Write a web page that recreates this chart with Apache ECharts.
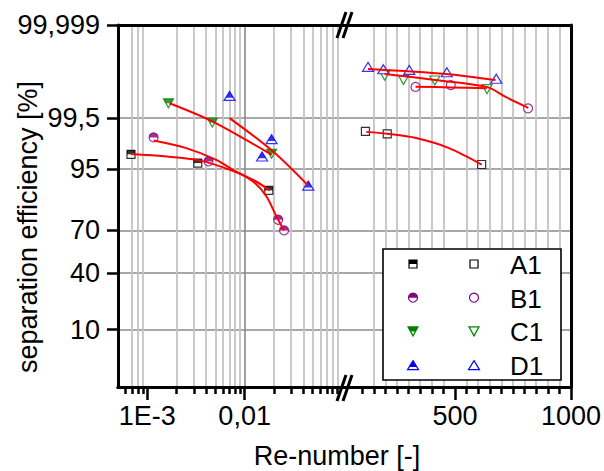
<!DOCTYPE html>
<html><head><meta charset="utf-8">
<script src="https://cdn.jsdelivr.net/npm/echarts@6/dist/echarts.min.js"></script>
<style>html,body{margin:0;padding:0;background:#fff}#c{width:604px;height:471px}</style>
</head><body><div id="c"></div>
<script>
// ---------------- data ----------------
const yTickValues = [10, 40, 70, 95, 99.5, 99.999];
const yTickLabels = ['10', '40', '70', '95', '99,5', '99,999'];
const yMinPct = 1, yMaxPct = 99.999;

const xLeftMin = 5e-4, xLeftMax = 0.1;
const xLeftMajor = [1e-3, 1e-2];
const xLeftMajorLabels = ['1E-3', '0,01'];
const xLeftMinor = [6e-4, 7e-4, 8e-4, 9e-4, 2e-3, 3e-3, 4e-3, 5e-3, 6e-3, 7e-3, 8e-3, 9e-3,
                    2e-2, 3e-2, 4e-2, 5e-2, 6e-2, 7e-2, 8e-2, 9e-2];
const xRightMin = 13, xRightMax = 1000;
const xRightMajor = [500, 1000];
const xRightMajorLabels = ['500', '1000'];
const xRightMinor = [100, 150, 200, 250, 300, 350, 400, 450, 550, 600, 650, 700, 750, 800, 850, 900, 950];

// filled markers (low Re)
const reA1L = [6.8e-4, 3.3e-3, 0.0177];
const effA1L = [97.2, 96.0, 89.5];
const reB1L = [1.16e-3, 4.25e-3, 0.0221, 0.0254];
const effB1L = [98.67, 96.25, 76.4, 70.0];
const reC1L = [1.65e-3, 4.65e-3, 0.0189];
const effC1L = [99.775, 99.36, 97.26];
const reD1L = [7.0e-3, 0.0151, 0.0189, 0.045];
const effD1L = [99.853, 96.93, 98.56, 91.0];
// open markers (high Re)
const reA1R = [114, 208, 615];
const effA1R = [99.0, 98.88, 95.77];
const reB1R = [330, 482, 815];
const effB1R = [99.915, 99.924, 99.70];
const reC1R = [197, 278, 413, 638];
const effC1R = [99.958, 99.945, 99.943, 99.902];
const reD1R = [125, 191, 303, 465, 678];
const effD1R = [99.977, 99.973, 99.9717, 99.967, 99.949];

// red fit curves
const fitA1L_re = [6.8e-4, 1.5e-3, 3.44e-3, 7.52e-3, 0.01268, 0.0181];
const fitA1L_eff = [97.22, 96.95, 96.41, 94.63, 92.35, 89.5];
const fitB1L_re = [1.16e-3, 2.51e-3, 5.11e-3, 7.57e-3, 0.01218, 0.01674, 0.02122, 0.0254];
const fitB1L_eff = [98.47, 97.85, 96.49, 94.84, 92.16, 87.35, 78.2, 70.0];
const fitC1L_re = [1.69e-3, 4.71e-3, 0.019];
const fitC1L_eff = [99.775, 99.39, 97.13];
const fitD1L_re = [7.0e-3, 0.0196, 0.045];
const fitD1L_eff = [99.49, 97.51, 91.0];
const fitA1R_re = [118, 208, 332, 474, 615];
const fitA1R_eff = [98.98, 98.88, 98.63, 97.85, 95.77];
const fitC1R_re = [197, 415, 637, 718, 816];
const fitC1R_eff = [99.963, 99.945, 99.915, 99.844, 99.707];
const fitB1R_re = [330, 482, 637];
const fitB1R_eff = [99.916, 99.912, 99.908];
const fitD1R_re = [125, 462, 675];
const fitD1R_eff = [99.9735, 99.963, 99.945];

const legendNames = ['A1', 'B1', 'C1', 'D1'];

// ---------------- helpers ----------------
function probit(p) {
  const a=[-3.969683028665376e+01,2.209460984245205e+02,-2.759285104469687e+02,1.383577518672690e+02,-3.066479806614716e+01,2.506628277459239e+00];
  const b=[-5.447609879822406e+01,1.615858368580409e+02,-1.556989798598866e+02,6.680131188771972e+01,-1.328068155288572e+01];
  const c=[-7.784894002430293e-03,-3.223964580411365e-01,-2.400758277161838e+00,-2.549732539343734e+00,4.374664141464968e+00,2.938163982698783e+00];
  const d=[7.784695709041462e-03,3.224671290700398e-01,2.445134137142996e+00,3.754408661907416e+00];
  const plow=0.02425, phigh=1-plow; let q,r;
  if(p<plow){q=Math.sqrt(-2*Math.log(p));return (((((c[0]*q+c[1])*q+c[2])*q+c[3])*q+c[4])*q+c[5])/((((d[0]*q+d[1])*q+d[2])*q+d[3])*q+1);}
  if(p<=phigh){q=p-0.5;r=q*q;return (((((a[0]*r+a[1])*r+a[2])*r+a[3])*r+a[4])*r+a[5])*q/(((((b[0]*r+b[1])*r+b[2])*r+b[3])*r+b[4])*r+1);}
  q=Math.sqrt(-2*Math.log(1-p));return -(((((c[0]*q+c[1])*q+c[2])*q+c[3])*q+c[4])*q+c[5])/((((d[0]*q+d[1])*q+d[2])*q+d[3])*q+1);
}
const zOf = pct => probit(pct / 100);
const yTickZ = yTickValues.map(zOf);
const yMin = zOf(yMinPct), yMax = zOf(yMaxPct);
function nearestLabel(v, vals, labels) {
  let bi = 0, bd = Infinity;
  vals.forEach((t, i) => { const dd = Math.abs(t - v); if (dd < bd) { bd = dd; bi = i; } });
  return bd < 1e-6 * Math.max(1, Math.abs(v)) + 1e-9 ? labels[bi] : '';
}
const ptsL = (re, eff) => re.map((r, i) => [Math.log10(r), zOf(eff[i])]);
const ptsR = (re, eff) => re.map((r, i) => [r, zOf(eff[i])]);

const FONT = "'Liberation Sans', Arial, sans-serif";
const COL = { A: '#000000', B: '#800080', C: '#008000', D: '#0000ff' };
const GRID_MAJOR = '#8a8a8a', GRID_MINOR = '#c4c4c4';

const xLeftMajorLog = xLeftMajor.map(Math.log10);
const xLeftMinorLog = xLeftMinor.map(Math.log10);

function bottomAxis(grid, min, max, vals, major, labelVals, labels) {
  return {
    gridIndex: grid, type: 'value', position: 'bottom', min, max,
    axisLine: { show: true, onZero: false, lineStyle: { color: '#000', width: 3 } },
    axisTick: { show: true, length: major ? 13 : 7, customValues: vals, lineStyle: { color: '#000', width: 2.5 } },
    axisLabel: major ? { show: true, customValues: vals, margin: 15, fontSize: 27, fontFamily: FONT, color: '#000',
      formatter: v => nearestLabel(v, labelVals, labels) } : { show: false },
    splitLine: { show: true, showMinLine: false, lineStyle: { color: major ? GRID_MAJOR : GRID_MINOR, width: major ? 1.6 : 1.8 } }
  };
}
function topAxis(grid, min, max) {
  return { gridIndex: grid, type: 'value', position: 'top', min, max,
    axisLine: { show: true, onZero: false, lineStyle: { color: '#000', width: 3 } },
    axisTick: { show: false }, axisLabel: { show: false }, splitLine: { show: false } };
}

const xAxis = [
  bottomAxis(0, Math.log10(xLeftMin), Math.log10(xLeftMax), xLeftMinorLog, false),
  bottomAxis(0, Math.log10(xLeftMin), Math.log10(xLeftMax), xLeftMajorLog, true, xLeftMajorLog, xLeftMajorLabels),
  topAxis(0, Math.log10(xLeftMin), Math.log10(xLeftMax)),
  bottomAxis(1, xRightMin, xRightMax, xRightMinor, false),
  bottomAxis(1, xRightMin, xRightMax, xRightMajor, true, xRightMajor, xRightMajorLabels),
  topAxis(1, xRightMin, xRightMax)
];
const yAxis = [
  { gridIndex: 0, type: 'value', position: 'left', min: yMin, max: yMax,
    axisLine: { show: true, onZero: false, lineStyle: { color: '#000', width: 3 } },
    axisTick: { show: true, length: 11, customValues: yTickZ, lineStyle: { color: '#000', width: 2.5 } },
    axisLabel: { show: true, customValues: yTickZ, margin: 18, fontSize: 27, fontFamily: FONT, color: '#000',
      formatter: v => nearestLabel(v, yTickZ, yTickLabels) },
    splitLine: { show: true, lineStyle: { color: GRID_MAJOR, width: 1.6 } } },
  { gridIndex: 1, type: 'value', position: 'right', min: yMin, max: yMax,
    axisLine: { show: true, onZero: false, lineStyle: { color: '#000', width: 3 } },
    axisTick: { show: false, customValues: yTickZ }, axisLabel: { show: false, customValues: yTickZ },
    splitLine: { show: true, lineStyle: { color: GRID_MAJOR, width: 1.6 } } }
];

const SHAPES = {
  square: { base: { symbol: 'rect', symbolSize: 8 },
            half: { symbol: 'rect', symbolSize: [8, 4], symbolOffset: [0, -2] } },
  circle: { base: { symbol: 'circle', symbolSize: 9 },
            half: { symbol: 'path://M0,10A10,10,0,0,1,20,10Z', symbolSize: [9, 4.5], symbolOffset: [0, -2.25] } },
  down:   { base: { symbol: 'triangle', symbolSize: [10, 9], symbolRotate: 180 },
            half: { symbol: 'path://M0,0L20,0L15,10L5,10Z', symbolSize: [10, 4.5], symbolOffset: [0, -2.25] } },
  up:     { base: { symbol: 'triangle', symbolSize: [11, 9] },
            half: { symbol: 'path://M10,0L20,20L0,20Z', symbolSize: [7.7, 6.3], symbolOffset: [0, -1.35] } }
};
function scatter(name, data, xi, yi, shape, color, filled) {
  const out = [Object.assign({ type: 'scatter', name, data, xAxisIndex: xi, yAxisIndex: yi, z: 3,
    itemStyle: { color: '#fff', borderColor: color, borderWidth: 1.2 }, emphasis: { disabled: true } }, SHAPES[shape].base)];
  if (filled) out.push(Object.assign({ type: 'scatter', name: name + ' fill', data, xAxisIndex: xi, yAxisIndex: yi, z: 3,
    itemStyle: { color: color, borderWidth: 0 }, emphasis: { disabled: true } }, SHAPES[shape].half));
  return out;
}
function fit(name, data, xi, yi) {
  return { type: 'line', name, data, xAxisIndex: xi, yAxisIndex: yi, smooth: 0.3, showSymbol: false, z: 5,
    lineStyle: { color: '#ff0000', width: 2 }, emphasis: { disabled: true } };
}

const series = [].concat(
  scatter('A1 filled', ptsL(reA1L, effA1L), 1, 0, 'square', COL.A, true),
  scatter('B1 filled', ptsL(reB1L, effB1L), 1, 0, 'circle', COL.B, true),
  scatter('C1 filled', ptsL(reC1L, effC1L), 1, 0, 'down', COL.C, true),
  scatter('D1 filled', ptsL(reD1L, effD1L), 1, 0, 'up', COL.D, true),
  scatter('A1', ptsR(reA1R, effA1R), 4, 1, 'square', COL.A, false),
  scatter('B1', ptsR(reB1R, effB1R), 4, 1, 'circle', COL.B, false),
  scatter('C1', ptsR(reC1R, effC1R), 4, 1, 'down', COL.C, false),
  scatter('D1', ptsR(reD1R, effD1R), 4, 1, 'up', COL.D, false),
  [fit('fit A1 L', ptsL(fitA1L_re, fitA1L_eff), 1, 0),
   fit('fit B1 L', ptsL(fitB1L_re, fitB1L_eff), 1, 0),
   fit('fit C1 L', ptsL(fitC1L_re, fitC1L_eff), 1, 0),
   fit('fit D1 L', ptsL(fitD1L_re, fitD1L_eff), 1, 0),
   fit('fit A1 R', ptsR(fitA1R_re, fitA1R_eff), 4, 1),
   fit('fit C1 R', ptsR(fitC1R_re, fitC1R_eff), 4, 1),
   fit('fit B1 R', ptsR(fitB1R_re, fitB1R_eff), 4, 1),
   fit('fit D1 R', ptsR(fitD1R_re, fitD1R_eff), 4, 1)]
);

function legendMarker(kind, cx, cy, filled, color) {
  const els = []; const st = { fill: '#fff', stroke: color, lineWidth: 1.2 };
  if (kind === 'square') {
    els.push({ type: 'rect', shape: { x: cx - 4, y: cy - 4, width: 8, height: 8 }, style: st });
    if (filled) els.push({ type: 'rect', shape: { x: cx - 4, y: cy - 4, width: 8, height: 4 }, style: { fill: color } });
  } else if (kind === 'circle') {
    els.push({ type: 'circle', shape: { cx, cy, r: 4.5 }, style: st });
    if (filled) els.push({ type: 'sector', shape: { cx, cy, r0: 0, r: 4.5, startAngle: Math.PI, endAngle: Math.PI * 2 }, style: { fill: color } });
  } else if (kind === 'down') {
    els.push({ type: 'polygon', shape: { points: [[cx - 5, cy - 4.5], [cx + 5, cy - 4.5], [cx, cy + 4.5]] }, style: st });
    if (filled) els.push({ type: 'polygon', shape: { points: [[cx - 5, cy - 4.5], [cx + 5, cy - 4.5], [cx + 2.5, cy], [cx - 2.5, cy]] }, style: { fill: color } });
  } else {
    els.push({ type: 'polygon', shape: { points: [[cx, cy - 4.5], [cx + 5.5, cy + 4.5], [cx - 5.5, cy + 4.5]] }, style: st });
    if (filled) els.push({ type: 'polygon', shape: { points: [[cx, cy - 4.5], [cx + 3.85, cy + 1.8], [cx - 3.85, cy + 1.8]] }, style: { fill: color } });
  }
  return els;
}
const kinds = ['square', 'circle', 'down', 'up'];
const cols = [COL.A, COL.B, COL.C, COL.D];
const graphic = [
  { type: 'rect', z: 100, shape: { x: 383, y: 249, width: 178, height: 131 }, style: { fill: '#fff', stroke: '#000', lineWidth: 1.6 } }
];
legendNames.forEach((n, i) => {
  const cy = 264 + i * 33.7;
  legendMarker(kinds[i], 413, cy, true, cols[i]).concat(legendMarker(kinds[i], 474, cy, false, cols[i]))
    .forEach(e => { e.z = 101; graphic.push(e); });
  graphic.push({ type: 'text', z: 101, x: 510, y: cy + 1, style: { text: n, fontSize: 26, fontFamily: FONT, fill: '#000',
    textAlign: 'left', textVerticalAlign: 'middle', align: 'left', verticalAlign: 'middle' } });
});
[[345, 25], [345, 388]].forEach(([bx, by]) => {
  graphic.push({ type: 'line', z: 60, shape: { x1: bx - 8, y1: by + 13, x2: bx + 1, y2: by - 13 }, style: { stroke: '#000', lineWidth: 3 } });
  graphic.push({ type: 'line', z: 60, shape: { x1: bx - 2, y1: by + 13, x2: bx + 7, y2: by - 13 }, style: { stroke: '#000', lineWidth: 3 } });
});
graphic.push({ type: 'text', z: 50, x: 337, y: 456, style: { text: 'Re-number [-]', fontSize: 27, fontFamily: FONT, fill: '#000',
  textAlign: 'center', textVerticalAlign: 'middle', align: 'center', verticalAlign: 'middle' } });
graphic.push({ type: 'text', z: 50, x: 28, y: 227, rotation: Math.PI / 2, style: { text: 'separation efficiency [%]', fontSize: 27,
  fontFamily: FONT, fill: '#000', textAlign: 'center', textVerticalAlign: 'middle', align: 'center', verticalAlign: 'middle' } });

const chart = echarts.init(document.getElementById('c'), null, { renderer: 'svg', width: 604, height: 471 });
chart.setOption({
  animation: false,
  backgroundColor: '#fff',
  textStyle: { fontFamily: FONT },
  grid: [
    { left: 118, top: 25, width: 224, height: 362 },
    { left: 342, top: 25, width: 231, height: 362 }
  ],
  xAxis, yAxis, series, graphic
});
</script>
</body></html>
